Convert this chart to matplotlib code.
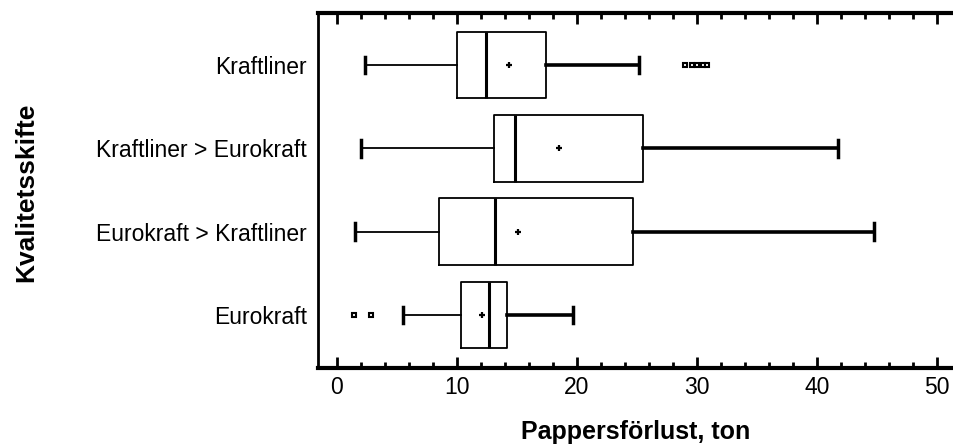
import matplotlib
matplotlib.use("Agg")
import matplotlib.pyplot as plt
from matplotlib.ticker import MultipleLocator

plt.rcParams['font.family'] = ['Liberation Sans', 'DejaVu Sans']

# Pappersförlust per kvalitetsskifte (ton), nerifrån och upp
kategorier = ["Eurokraft", "Eurokraft > Kraftliner", "Kraftliner > Eurokraft", "Kraftliner"]
whisk_lo = [5.5, 1.5, 2.0, 2.3]
q1 = [10.3, 8.5, 13.1, 10.0]
median = [12.7, 13.2, 14.8, 12.4]
q3 = [14.2, 24.7, 25.5, 17.4]
whisk_hi = [19.7, 44.7, 41.7, 25.2]
medel = [12.1, 15.1, 18.5, 14.3]
avvikare = [[1.4, 2.8], [], [], [29.0, 29.6, 30.0, 30.5, 30.8]]

stats = []
for i in range(len(kategorier)):
    stats.append(dict(label=kategorier[i], whislo=whisk_lo[i], q1=q1[i], med=median[i],
                      q3=q3[i], whishi=whisk_hi[i], mean=medel[i], fliers=avvikare[i]))

fig = plt.figure(figsize=(9.54, 4.47), dpi=100)
ax = fig.add_axes([0.3333, 0.1767, 0.6667, 0.7942])

res = ax.bxp(stats, positions=[1, 2, 3, 4], vert=False, widths=0.8,
             showmeans=True, showfliers=True, showcaps=True,
             boxprops=dict(color='black', linewidth=1.3),
             medianprops=dict(color='black', linewidth=2.2),
             whiskerprops=dict(color='black', linewidth=1.3),
             capprops=dict(color='black', linewidth=2.5),
             meanprops=dict(marker='+', markeredgecolor='black', markersize=5, markeredgewidth=1.6),
             flierprops=dict(marker='s', markerfacecolor='white', markeredgecolor='black',
                             markersize=3.5, markeredgewidth=1.5),
             capwidths=0.2)

# övre morrhåren ritas grövre
for j, w in enumerate(res['whiskers']):
    if j % 2 == 1:
        w.set_linewidth(2.6)

ax.set_xlim(-1.58, 51.4)
ax.set_ylim(0.364, 4.624)

ax.xaxis.set_major_locator(MultipleLocator(10))
ax.xaxis.set_minor_locator(MultipleLocator(2))
ax.tick_params(axis='x', which='major', direction='in', length=8, width=2, top=True,
               labelsize=16.5, pad=6)
ax.tick_params(axis='x', which='minor', direction='in', length=4.5, width=2, top=True)
ax.tick_params(axis='y', which='both', length=0, labelsize=16.5, pad=8)

ax.spines['right'].set_visible(False)
ax.spines['left'].set_linewidth(2)
ax.spines['top'].set_linewidth(3)
ax.spines['bottom'].set_linewidth(3)

ax.set_xlabel("Pappersförlust, ton", fontsize=18, fontweight='bold', labelpad=15)
fig.text(0.027, 0.57, "Kvalitetsskifte", rotation=90, fontsize=19, fontweight='bold',
         ha='center', va='center')

plt.savefig("out.png", dpi=100)
